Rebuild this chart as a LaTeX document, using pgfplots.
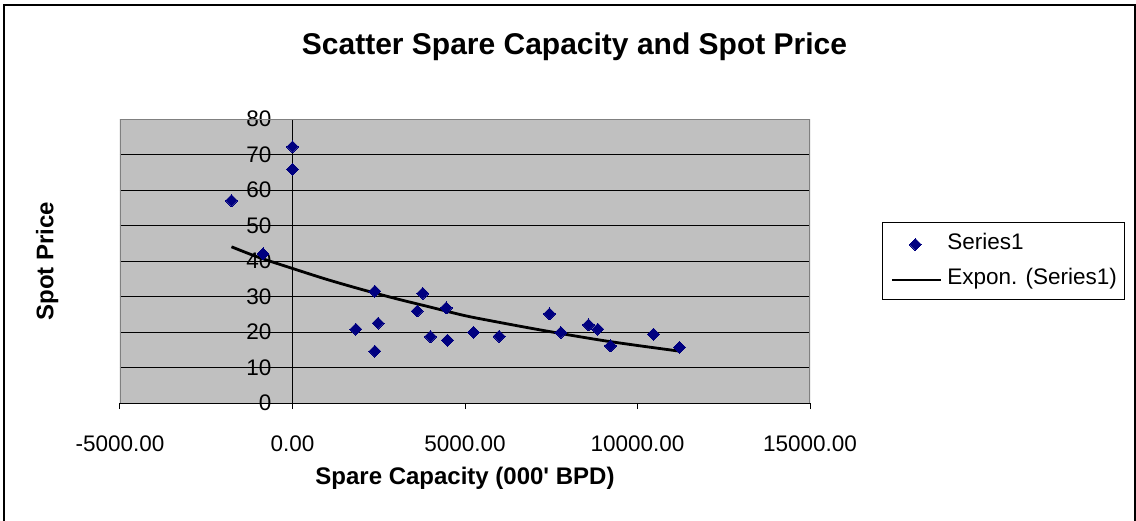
\documentclass[border=0pt]{standalone}
\usepackage{fontspec}
\setmainfont{Liberation Sans}
\usepackage{pgfplots}
\pgfplotsset{compat=1.18}

\definecolor{plotgray}{HTML}{C0C0C0}
\definecolor{framegray}{HTML}{808080}
\definecolor{navy}{HTML}{000080}

\pgfplotsset{
  legdiam/.style={legend image code/.code={\draw[mark repeat=2,mark phase=2,##1]
    plot coordinates {(0bp,-1bp) (23.5bp,-1bp) (47bp,-1bp)};}},
  legline/.style={legend image code/.code={\draw[##1] (0bp,-1.5bp) -- (49bp,-1.5bp);}},
}

\begin{document}
\begin{tikzpicture}
\begin{axis}[
  at={(0,0)}, anchor=south west,
  scale only axis,
  width=690bp, height=284bp,
  xmin=-5000, xmax=15000,
  ymin=0, ymax=80,
  axis x line=bottom,
  axis y line=middle,
  axis line style={-, black, line width=1bp},
  hide obscured x ticks=false,
  hide obscured y ticks=false,
  axis background/.style={fill=plotgray},
  scaled x ticks=false,
  xtick={-5000,0,5000,10000,15000},
  xticklabels={-5000.00,0.00,5000.00,10000.00,15000.00},
  ytick={0,10,...,80},
  xtick align=outside,
  major tick length=6bp,
  xtick style={black, line width=1bp},
  ytick style={draw=none},
  ymajorgrids=true,
  major grid style={black, line width=1bp},
  /pgf/number format/assume math mode=true,
  tick label style={font=\fontsize{22.5bp}{27bp}\selectfont},
  xticklabel style={anchor=base, yshift=-42bp},
  yticklabel style={anchor=east, inner sep=0pt, xshift=-18bp},
  title={Scatter Spare Capacity and Spot Price},
  xlabel={Spare Capacity (000\textquotesingle{} BPD)},
  ylabel={Spot Price},
  every axis title/.style={at={(axis description cs:0.6587,1.2278)}, anchor=base,
    font=\fontsize{30bp}{36bp}\selectfont\bfseries},
  every axis x label/.style={at={(axis description cs:0.5,-0.2887)}, anchor=base,
    font=\fontsize{24bp}{29bp}\selectfont\bfseries},
  every axis y label/.style={at={(axis description cs:-0.0967,0.5)}, anchor=base, rotate=90,
    font=\fontsize{24bp}{29bp}\selectfont\bfseries},
  legend style={at={(1.10435,0.6373)}, anchor=north west,
    draw=black, line width=1bp, fill=white,
    inner xsep=8bp, inner ysep=10bp,
    row sep=13bp, column sep=5bp,
    font=\fontsize{22.5bp}{27bp}\selectfont,
    nodes={inner sep=0pt, text height=17bp, text depth=5bp}},
  legend cell align=left,
]
\addplot[only marks, mark=square*, mark size=4.2bp,
  mark options={rotate=45, fill=navy, draw=navy, line width=0pt}, legdiam]
  coordinates {
  (-1768,57.0) (0,72.2) (0,65.8) (-855,42.0) (1835,20.8) (2386,31.5)
  (2386,14.6) (2483,22.5) (3614,25.9) (3777,30.9) (4000,18.7) (4455,26.8)
  (4493,17.7) (5246,19.9) (5990,18.8) (7449,25.1) (7778,19.9) (8580,22.0)
  (8850,20.8) (9217,16.1) (10464,19.4) (11217,15.7)
  };
\addlegendentry{Series1}
\addplot[black, line width=2.8bp, smooth, legline]
  coordinates {
  (-1768,44.0) (-1000,41.1) (0,37.9) (1000,34.8) (2000,32.0) (3000,29.4)
  (4000,27.0) (5000,24.6) (6000,22.7) (7000,20.9) (8000,19.2) (9000,17.6)
  (10000,16.2) (11217,14.6)
  };
\addlegendentry{Expon. (Series1)}
\draw[framegray, line width=2bp] (rel axis cs:0,0) -- (rel axis cs:0,1)
  -- (rel axis cs:1,1) -- (rel axis cs:1,0);
\end{axis}
\draw[black, line width=2bp] (-116bp,-130bp) rectangle (1015bp,398bp);
\pgfresetboundingbox
\path[use as bounding box] (-120bp,-118bp) rectangle (1016bp,403bp);
\end{tikzpicture}
\end{document}
